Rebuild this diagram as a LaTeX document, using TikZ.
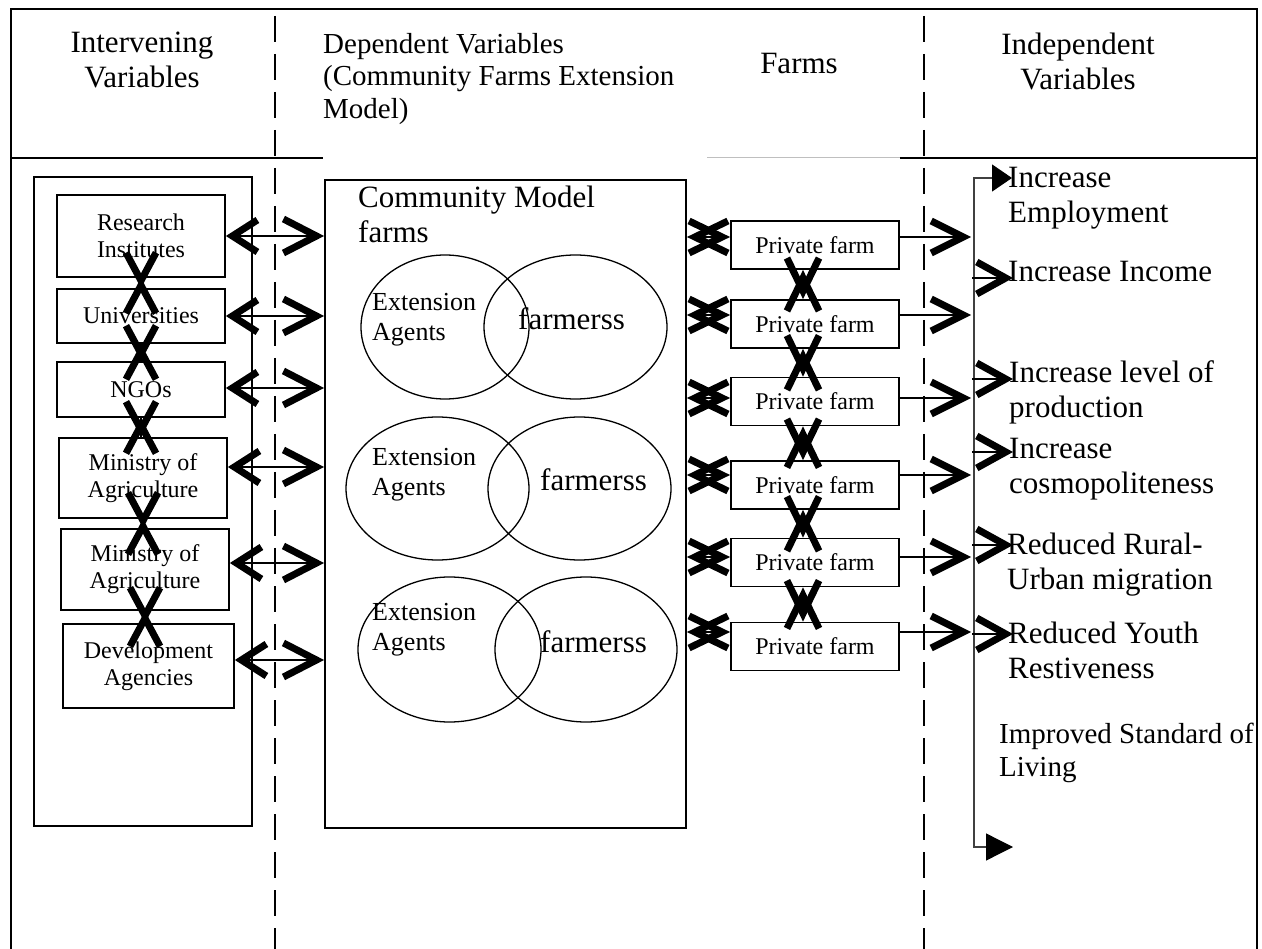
\documentclass[tikz,border=0pt]{standalone}
\usepackage{fontspec}
\setmainfont{Liberation Serif}
\usetikzlibrary{arrows.meta}

\begin{document}
\begin{tikzpicture}[x=1pt, y=-1pt,
    box/.style={draw, line width=1.8pt, inner sep=0pt, align=center, font=\fontsize{24}{27}\selectfont},
    hdr/.style={inner sep=0pt, font=\fontsize{31}{35}\selectfont},
    outc/.style={anchor=north west, inner sep=0pt, align=left, font=\fontsize{31}{35}\selectfont},
    ext/.style={anchor=north west, inner sep=0pt, align=left, font=\fontsize{26}{30}\selectfont},
    frm/.style={anchor=north west, inner sep=0pt, align=left, font=\fontsize{31}{35}\selectfont},
    sep/.style={line width=1.6pt, dash pattern=on 26pt off 12pt},
    lnk/.style={line width=1.2pt, {Straight Barb[sharp, length=25pt, width=32pt, line width=7pt]}-{Straight Barb[sharp, length=33pt, width=34pt, line width=7pt]}},
    xhd/.style={line width=1.2pt, -{Straight Barb[sharp, length=28pt, width=30pt, line width=7pt]}},
    flnk/.style={line width=1.2pt, {Straight Barb[sharp, length=33pt, width=32pt, line width=7pt]}-{Straight Barb[sharp, length=33pt, width=32pt, line width=7pt]}},
    rarr/.style={line width=1.2pt, shorten >=3pt, -{Straight Barb[sharp, length=32pt, width=32pt, line width=7pt]}},
    oarr/.style={line width=1.2pt, -{Straight Barb[sharp, length=29pt, width=32pt, line width=7pt]}}]
    \useasboundingbox (0,0) rectangle (1262,949);
    \draw[line width=2pt] (11,949) -- (11,9) -- (1257,9) -- (1257,949);
    \draw[line width=2pt] (11,158) -- (323,158);
    \draw[line width=1pt, black!25] (707,158) -- (900,158);
    \draw[line width=2pt] (900,158) -- (1257,158);
    \draw[sep] (275,16) -- (275,949);
    \draw[sep] (924,16) -- (924,949);
    \node[hdr, anchor=north, align=center] (hintv) at (142,32) {Intervening\\Variables};
    \node[hdr, anchor=north west, align=left, font=\fontsize{29}{32.5}\selectfont] (hdep) at (323,33) {Dependent Variables\\(Community Farms Extension\\Model)};
    \node[hdr, anchor=north] (hfarm) at (799,53) {Farms};
    \node[hdr, anchor=north, align=center] (hindep) at (1078,33) {Independent\\Variables};
    \node[draw, line width=1.8pt, minimum width=218pt, minimum height=649pt] (ivbox) at (143,501.5) {};
    \node[box, minimum width=168pt, minimum height=82pt] (ri) at (141,236) {Research\\Institutes};
    \node[box, minimum width=168pt, minimum height=54pt] (uni) at (141,316) {Universities};
    \node[box, minimum width=168pt, minimum height=55pt] (ngo) at (141,389.5) {NGOs};
    \node[box, minimum width=168pt, minimum height=80pt] (moa) at (143,478) {Ministry of\\Agriculture};
    \node[box, minimum width=168pt, minimum height=81pt] (mob) at (145,569.5) {Ministry of\\Agriculture};
    \node[box, minimum width=171pt, minimum height=84pt] (dev) at (148.5,666) {Development\\Agencies};
    \node[draw, line width=1.8pt, minimum width=361pt, minimum height=648pt] (cmf) at (505.5,504) {};
    \node[frm] (cmft) at (358,186) {Community Model\\farms};
    \draw[line width=1.3pt] (445,327) ellipse [x radius=84, y radius=72];
    \draw[line width=1.3pt] (575.5,327) ellipse [x radius=91.5, y radius=72];
    \draw[line width=1.3pt] (437.5,488.5) ellipse [x radius=91.5, y radius=71.5];
    \draw[line width=1.3pt] (579.5,488.5) ellipse [x radius=91.5, y radius=71.5];
    \draw[line width=1.3pt] (449.5,649.5) ellipse [x radius=91.5, y radius=72.5];
    \draw[line width=1.3pt] (586,649.5) ellipse [x radius=91, y radius=72.5];
    \node[ext] (ea1) at (372,293) {Extension\\Agents};
    \node[frm] (fa1) at (518,307) {farmerss};
    \node[ext] (ea2) at (372,448) {Extension\\Agents};
    \node[frm] (fa2) at (540,468) {farmerss};
    \node[ext] (ea3) at (372,603) {Extension\\Agents};
    \node[frm] (fa3) at (540,630) {farmerss};
    \node[box, minimum width=168pt, minimum height=48pt] (pf1) at (815,245) {Private farm};
    \node[box, minimum width=168pt, minimum height=48pt] (pf2) at (815,324) {Private farm};
    \node[box, minimum width=168pt, minimum height=48pt] (pf3) at (815,401.5) {Private farm};
    \node[box, minimum width=168pt, minimum height=48pt] (pf4) at (815,485) {Private farm};
    \node[box, minimum width=168pt, minimum height=48pt] (pf5) at (815,562.5) {Private farm};
    \node[box, minimum width=168pt, minimum height=48pt] (pf6) at (815,646.5) {Private farm};
    \node[outc] (o1) at (1008,167) {Increase\\Employment};
    \node[outc] (o2) at (1008,261) {Increase Income};
    \node[outc] (o3) at (1009,360) {Increase level of\\production};
    \node[outc] (o4) at (1009,438) {Increase\\cosmopoliteness};
    \node[outc] (o5) at (1007,533) {Reduced Rural-\\Urban migration};
    \node[outc] (o6) at (1008,622) {Reduced Youth\\Restiveness};
    \node[outc, font=\fontsize{29}{33}\selectfont] (o7) at (999,723) {Improved Standard of\\Living};
    \coordinate (vtop) at (974,178);
    \coordinate (vbot) at (974,847);
    \coordinate (otop) at (1012,178);
    \coordinate (obot) at (1013,847);
    \draw[line width=1.3pt, black!75, {Triangle[length=20pt, width=27pt, color=black]}-{Triangle[length=27pt, width=27pt, color=black]}] (otop) -- (vtop) -- (vbot) -- (obot);
    \coordinate (a1) at (ri.east);
    \coordinate (a2) at (uni.east);
    \coordinate (a3) at ([yshift=1.5pt]ngo.east);
    \coordinate (a4) at ([yshift=11pt]moa.east);
    \coordinate (a5) at ([yshift=6.5pt]mob.east);
    \coordinate (a6) at ([yshift=6pt]dev.east);
    \draw[lnk] (a1) -- (a1 -| cmf.west);
    \draw[lnk] (a2) -- (a2 -| cmf.west);
    \draw[lnk] (a3) -- (a3 -| cmf.west);
    \draw[lnk] (a4) -- (a4 -| cmf.west);
    \draw[lnk] (a5) -- (a5 -| cmf.west);
    \draw[lnk] (a6) -- (a6 -| cmf.west);
    \draw[xhd] (ri.south |- uni.north) -- (ri.south);
    \draw[xhd] (ri.south) -- (ri.south |- uni.north);
    \draw[xhd] (uni.south |- ngo.north) -- (uni.south);
    \draw[xhd] (uni.south) -- (uni.south |- ngo.north);
    \draw[xhd] (ngo.south |- moa.north) -- (ngo.south);
    \draw[xhd] (ngo.south) -- (ngo.south |- moa.north);
    \draw[xhd] (moa.south |- mob.north) -- (moa.south);
    \draw[xhd] (moa.south) -- (moa.south |- mob.north);
    \draw[xhd] (mob.south |- dev.north) -- (mob.south);
    \draw[xhd] (mob.south) -- (mob.south |- dev.north);
    \coordinate (l1) at ([yshift=8pt]pf1.west);
    \coordinate (l2) at ([yshift=9pt]pf2.west);
    \coordinate (l3) at ([yshift=3.5pt]pf3.west);
    \coordinate (l4) at ([yshift=10pt]pf4.west);
    \coordinate (l5) at ([yshift=5.5pt]pf5.west);
    \coordinate (l6) at ([yshift=14.5pt]pf6.west);
    \draw[flnk] (l1 -| cmf.east) -- (l1);
    \draw[flnk] (l2 -| cmf.east) -- (l2);
    \draw[flnk] (l3 -| cmf.east) -- (l3);
    \draw[flnk] (l4 -| cmf.east) -- (l4);
    \draw[flnk] (l5 -| cmf.east) -- (l5);
    \draw[flnk] (l6 -| cmf.east) -- (l6);
    \draw[flnk] ([xshift=-12pt]pf1.south) -- ([xshift=-12pt]pf2.north);
    \draw[flnk] ([xshift=-12pt]pf2.south) -- ([xshift=-12pt]pf3.north);
    \draw[flnk] ([xshift=-12pt]pf3.south) -- ([xshift=-12pt]pf4.north);
    \draw[flnk] ([xshift=-12pt]pf4.south) -- ([xshift=-12pt]pf5.north);
    \draw[flnk] ([xshift=-12pt]pf5.south) -- ([xshift=-12pt]pf6.north);
    \coordinate (r1) at ([yshift=8pt]pf1.east);
    \coordinate (r2) at ([yshift=9pt]pf2.east);
    \coordinate (r3) at ([yshift=3.5pt]pf3.east);
    \coordinate (r4) at ([yshift=10pt]pf4.east);
    \coordinate (r5) at ([yshift=5.5pt]pf5.east);
    \coordinate (r6) at ([yshift=14.5pt]pf6.east);
    \draw[rarr] (r1) -- (r1 -| vtop);
    \draw[rarr] (r2) -- (r2 -| vtop);
    \draw[rarr] (r3) -- (r3 -| vtop);
    \draw[rarr] (r4) -- (r4 -| vtop);
    \draw[rarr] (r5) -- (r5 -| vtop);
    \draw[rarr] (r6) -- (r6 -| vtop);
    \coordinate (t2) at (1013,278);
    \coordinate (t3) at (1013,379);
    \coordinate (t4) at (1013,452);
    \coordinate (t5) at (1013,545);
    \coordinate (t6) at (1013,634);
    \draw[oarr] ([xshift=-2pt]t2 -| vtop) -- (t2);
    \draw[oarr] ([xshift=-2pt]t3 -| vtop) -- (t3);
    \draw[oarr] ([xshift=-2pt]t4 -| vtop) -- (t4);
    \draw[oarr] ([xshift=-2pt]t5 -| vtop) -- (t5);
    \draw[oarr] ([xshift=-2pt]t6 -| vtop) -- (t6);
\end{tikzpicture}
\end{document}
